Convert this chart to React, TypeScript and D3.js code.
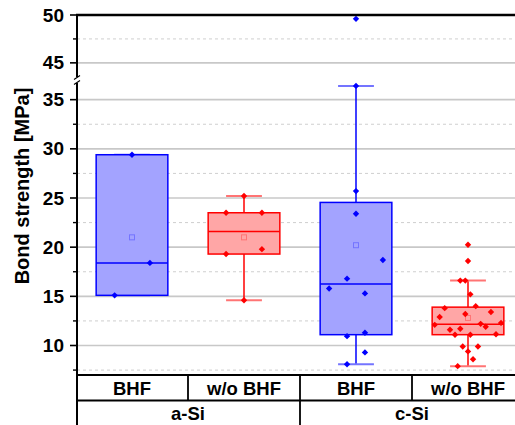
import React from "react";
import * as d3 from "d3";

const categories = ["a-Si|BHF", "a-Si|w/o BHF", "c-Si|BHF", "c-Si|w/o BHF"];
const treatmentLabels = ["BHF", "w/o BHF", "BHF", "w/o BHF"];
const materialLabels = ["a-Si", "c-Si"];
const seriesColors = ["blue", "red", "blue", "red"];

// box statistics: [whiskerLow, q1, median, q3, whiskerHigh]
const boxLow = [15.1, 14.6, 8.1, 7.9];
const boxQ1 = [15.1, 19.3, 11.1, 11.1];
const boxMedian = [18.4, 21.6, 16.25, 12.15];
const boxQ3 = [29.4, 23.5, 24.55, 13.9];
const boxHigh = [29.4, 25.2, 36.4, 16.6];
const boxMean = [21.0, 21.0, 20.2, 12.8];

// raw data points
const aSiBHF = [29.4, 18.4, 15.1];
const aSiWoBHF = [25.2, 23.5, 23.5, 19.8, 19.3, 14.6];
const cSiBHF = [49.6, 36.4, 25.7, 23.4, 18.7, 16.8, 15.8, 15.3, 11.3, 10.95, 9.3, 8.1];
const cSiWoBHF = [
  20.25, 18.6, 16.6, 16.6, 15.2, 14.0, 13.8, 13.4, 12.9, 13.2, 12.3, 12.1,
  12.2, 11.9, 11.6, 11.7, 11.1, 11.1, 11.15, 9.9, 9.9, 9.4, 8.6, 7.9,
];
// horizontal jitter (fraction of category width)
const aSiBHFJitter = [0, 0.16, -0.155];
const aSiWoBHFJitter = [0, -0.16, 0.16, 0.16, -0.16, 0];
const cSiBHFJitter = [0, 0, 0, 0, 0.24, -0.08, -0.24, 0.08, 0.08, -0.08, 0.08, -0.08];
const cSiWoBHFJitter = [
  0, 0, -0.069, -0.024, 0.021, 0.069, -0.208, 0.205, -0.253, -0.024, 0.295, -0.297,
  0.113, 0.158, -0.161, -0.069, -0.116, 0.021, 0.25, -0.047, 0.089, 0, 0.045, -0.092,
];
const pointSets = [aSiBHF, aSiWoBHF, cSiBHF, cSiWoBHF];
const jitterSets = [aSiBHFJitter, aSiWoBHFJitter, cSiBHFJitter, cSiWoBHFJitter];

const upperMajorTicks = [45, 50];
const upperMinorTicks = [47.5];
const lowerMajorTicks = [10, 15, 20, 25, 30, 35];
const lowerMinorTicks = [7.5, 12.5, 17.5, 22.5, 27.5, 32.5];

const W = 515;
const H = 425;
const FONT = "'Liberation Sans', Arial, sans-serif";
const FS = 18.5;

const palette: Record<string, { stroke: string; fill: string; light: string }> = {
  blue: { stroke: "#0000ff", fill: "#a3a3ff", light: "#7474ff" },
  red: { stroke: "#ff0000", fill: "#ffa6a6", light: "#ff7474" },
};

export default function App() {
  const left = 77;
  const x = d3.scaleBand<string>().domain(categories).range([76, 524]).padding(0);
  const bw = x.bandwidth();
  const yUp = d3.scaleLinear().domain([43, 50]).range([82, 15]);
  const yLo = d3.scaleLinear().domain([7, 37]).range([375, 80]);
  const y = (v: number) => (v > 40 ? yUp(v) : yLo(v));
  const plotBottom = yLo(7);
  const tableMid = 400.5;

  const diamond = (cx: number, cy: number, r = 3.2) =>
    `M${cx},${cy - r}L${cx + r},${cy}L${cx},${cy + r}L${cx - r},${cy}Z`;

  const boxW = bw * 0.64;
  const capW = boxW * 0.5;

  return (
    <svg width={W} height={H} style={{ position: "absolute", left: 0, top: 0 }} fontFamily={FONT}>
      <rect x={0} y={0} width={W} height={H} fill="white" />
      {/* grid */}
      {[...upperMinorTicks.map((t) => yUp(t)), ...lowerMinorTicks.map((t) => yLo(t))].map((py, i) => (
        <line key={"gm" + i} x1={left} x2={W} y1={py} y2={py} stroke="#cfcfcf" strokeWidth={1} strokeDasharray="3,3" />
      ))}
      {[...upperMajorTicks.filter((t) => t < 50).map((t) => yUp(t)), ...lowerMajorTicks.map((t) => yLo(t))].map((py, i) => (
        <line key={"gM" + i} x1={left} x2={W} y1={py} y2={py} stroke="#c8c8c8" strokeWidth={1.6} />
      ))}

      {/* boxes */}
      {categories.map((c, i) => {
        const cx = (x(c) as number) + bw / 2;
        const col = palette[seriesColors[i]];
        return (
          <g key={c}>
            <line x1={cx} x2={cx} y1={y(boxQ3[i])} y2={y(boxHigh[i])} stroke={col.stroke} strokeWidth={1.5} />
            <line x1={cx} x2={cx} y1={y(boxQ1[i])} y2={y(boxLow[i])} stroke={col.stroke} strokeWidth={1.5} />
            <line x1={cx - capW / 2} x2={cx + capW / 2} y1={y(boxHigh[i])} y2={y(boxHigh[i])} stroke={col.light} strokeWidth={2} />
            <line x1={cx - capW / 2} x2={cx + capW / 2} y1={y(boxLow[i])} y2={y(boxLow[i])} stroke={col.light} strokeWidth={2} />
            <rect
              x={cx - boxW / 2}
              y={y(boxQ3[i])}
              width={boxW}
              height={y(boxQ1[i]) - y(boxQ3[i])}
              fill={col.fill}
              stroke={col.stroke}
              strokeWidth={1.5}
            />
            <line x1={cx - boxW / 2} x2={cx + boxW / 2} y1={y(boxMedian[i])} y2={y(boxMedian[i])} stroke={col.stroke} strokeWidth={1.5} />
            <rect x={cx - 2.5} y={y(boxMean[i]) - 2.5} width={5} height={5} fill="none" stroke={col.light} strokeWidth={1} />
            {pointSets[i].map((v, j) => (
              <path key={j} d={diamond(cx + jitterSets[i][j] * bw, y(v))} fill={col.stroke} />
            ))}
          </g>
        );
      })}

      {/* frame: top line */}
      <line x1={left - 1} x2={W} y1={yUp(50)} y2={yUp(50)} stroke="black" strokeWidth={2.5} />
      {/* bottom axis */}
      <line x1={left} x2={W} y1={plotBottom} y2={plotBottom} stroke="black" strokeWidth={2} />
      {/* left axis */}
      <line x1={left} x2={left} y1={yUp(50) - 1} y2={H} stroke="black" strokeWidth={2} />
      {/* axis break */}
      <rect x={left - 5} y={77} width={10} height={6} fill="white" />
      <line x1={left - 3} x2={left + 3} y1={79.5} y2={75.5} stroke="black" strokeWidth={1.2} />
      <line x1={left - 3} x2={left + 3} y1={84.5} y2={80.5} stroke="black" strokeWidth={1.2} />
      {/* ticks */}
      {[...upperMajorTicks.map((t) => ({ t, py: yUp(t) })), ...lowerMajorTicks.map((t) => ({ t, py: yLo(t) }))].map(({ t, py }) => (
        <g key={"t" + t}>
          <line x1={left - 7} x2={left} y1={py} y2={py} stroke="black" strokeWidth={1.6} />
          <text x={64} y={py} textAnchor="end" dominantBaseline="central" fontSize={FS + 0.5} fontWeight="bold">
            {t}
          </text>
        </g>
      ))}
      {[...upperMinorTicks.map((t) => yUp(t)), ...lowerMinorTicks.map((t) => yLo(t))].map((py, i) => (
        <line key={"mt" + i} x1={left - 4} x2={left} y1={py} y2={py} stroke="black" strokeWidth={1.4} />
      ))}
      {/* y label */}
      <text
        transform={`translate(22,186) rotate(-90)`}
        textAnchor="middle"
        dominantBaseline="central"
        fontSize={20}
        fontWeight="bold"
      >
        Bond strength [MPa]
      </text>

      {/* category table */}
      <line x1={left} x2={W} y1={tableMid} y2={tableMid} stroke="black" strokeWidth={1.8} />
      {categories.map((c, i) => {
        const x0 = x(c) as number;
        return (
          <g key={"lab" + c}>
            {i > 0 && (
              <line
                x1={x0}
                x2={x0}
                y1={plotBottom}
                y2={i === 2 ? H : tableMid}
                stroke="black"
                strokeWidth={1.8}
              />
            )}
            <text x={x0 + bw / 2} y={388.5} textAnchor="middle" dominantBaseline="central" fontSize={FS} fontWeight="bold">
              {treatmentLabels[i]}
            </text>
          </g>
        );
      })}
      {materialLabels.map((m, k) => {
        const x0 = x(categories[k * 2]) as number;
        return (
          <text key={m} x={x0 + bw} y={413.5} textAnchor="middle" dominantBaseline="central" fontSize={FS} fontWeight="bold">
            {m}
          </text>
        );
      })}
    </svg>
  );
}
